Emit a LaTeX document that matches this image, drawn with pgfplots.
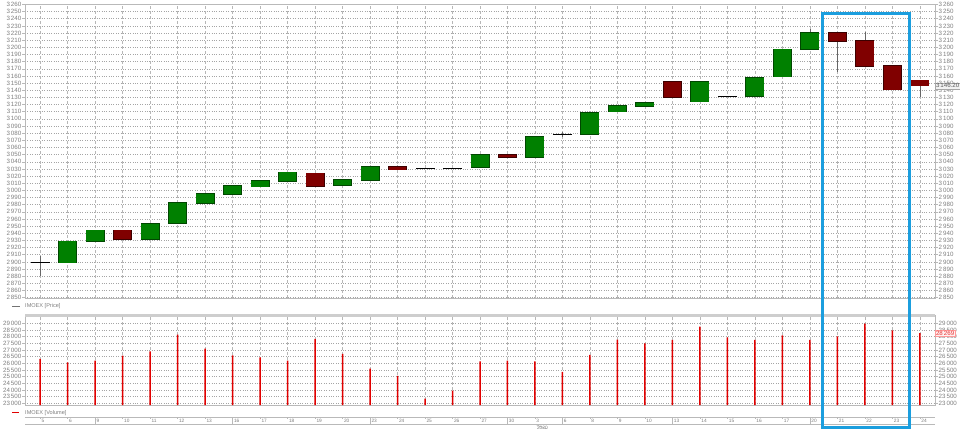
\documentclass[border=0pt]{standalone}
\usepackage{fontspec}
\setmainfont{Liberation Sans}
\usepackage{pgfplots}
\usepackage{pgfplotstable}
\pgfplotsset{compat=1.18}

\definecolor{upc}{RGB}{0,128,0}
\definecolor{upe}{RGB}{0,70,0}
\definecolor{dnc}{RGB}{128,0,0}
\definecolor{dne}{RGB}{60,0,0}
\definecolor{gridc}{RGB}{165,165,165}
\definecolor{framec}{RGB}{185,185,185}
\definecolor{labc}{RGB}{125,125,125}
\definecolor{volc}{RGB}{225,0,0}
\definecolor{hilite}{RGB}{27,158,222}

% rising days: open, close
\pgfplotstableread{
i o c
1 2899 2929
2 2929 2944
4 2932 2953
5 2954 2983
6 2982 2995
7 2995 3006
8 3005 3013
9 3013 3025
11 3007 3015
12 3014 3033
16 3032 3050
18 3046 3075
20 3079 3108
21 3110 3118
22 3118 3122
24 3124 3152
26 3132 3157
27 3159 3197
28 3197 3220
}\up

% falling days
\pgfplotstableread{
i o c
3 2944 2932
10 3024 3006
13 3033 3029
17 3050 3046
23 3152 3130
29 3220 3209
30 3209 3174
31 3174 3141
32 3154 3146.2
}\down

% open = close
\pgfplotstableread{
i p
0 2899
14 3030
15 3030
19 3078
25 3131
}\doji

% visible shadows
\pgfplotstableread{
i h l
0 2908 2880
19 3081 3074
28 3225 3197
29 3220 3166
30 3222 3174
32 3154 3131
}\wick

\pgfplotstableread{
i v
0 26325
1 26075
2 26200
3 26575
4 26900
5 28150
6 27100
7 26600
8 26450
9 26200
10 27825
11 26700
12 25600
13 25050
14 23350
15 23950
16 26150
17 26200
18 26150
19 25350
20 26625
21 27775
22 27500
23 27750
24 28750
25 27950
26 27750
27 28100
28 27750
29 28025
30 28975
31 28475
32 28269
}\vol

\pgfplotsset{
  panel/.style={
    scale only axis, width=910bp, anchor=north west,
    xmin=-0.55, xmax=32.55, scaled ticks=false,
    xtick={0,...,32}, xticklabels={}, major x tick style={draw=none},
    xmajorgrids, ymajorgrids,
    x grid style={gridc!80, densely dashed, line width=0.4bp},
    y grid style={gridc, dotted, line width=0.5bp},
    axis line style={framec, line width=0.8bp},
    tick align=outside, ytick pos=left,
    y tick style={framec, line width=0.5bp}, major tick length=2.5bp,
    yticklabel style={font=\fontsize{6.2}{7}\selectfont, text=labc, inner sep=1bp},
    /pgf/number format/assume math mode=true,
    /pgf/number format/fixed,
    /pgf/number format/1000 sep={\,},
  },
  rightdup/.style={
    panel, ytick pos=right, yticklabel pos=right,
    xmajorgrids=false, ymajorgrids=false, axis line style={draw=none},
  },
  body/.style={draw=none, mark=none, forget plot,
    error bars/.cd, y dir=both, y explicit, error mark=none},
}

\begin{document}
\begin{tikzpicture}
\path[use as bounding box] (0,0) rectangle (960bp,-429bp);

% ---- price panel
\begin{axis}[panel, at={(25bp,-4bp)}, height=294bp,
  ymin=2849.5, ymax=3260.6, ytick distance=10]
\addplot[body, error bar style={line width=0.7bp, draw=black!60}]
  table[x=i, y expr=(\thisrow{h}+\thisrow{l})/2, y error expr=(\thisrow{h}-\thisrow{l})/2] {\wick};
\addplot[body, error bar style={line width=19bp, draw=upe}]
  table[x=i, y expr=(\thisrow{o}+\thisrow{c})/2, y error expr=abs(\thisrow{c}-\thisrow{o})/2+0.9] {\up};
\addplot[body, error bar style={line width=17.6bp, draw=upc}]
  table[x=i, y expr=(\thisrow{o}+\thisrow{c})/2, y error expr=abs(\thisrow{c}-\thisrow{o})/2] {\up};
\addplot[body, error bar style={line width=19bp, draw=dne}]
  table[x=i, y expr=(\thisrow{o}+\thisrow{c})/2, y error expr=abs(\thisrow{c}-\thisrow{o})/2+0.9] {\down};
\addplot[body, error bar style={line width=17.6bp, draw=dnc}]
  table[x=i, y expr=(\thisrow{o}+\thisrow{c})/2, y error expr=abs(\thisrow{c}-\thisrow{o})/2] {\down};
\addplot[draw=none, mark=none, forget plot,
  error bars/.cd, x dir=both, x fixed=0.345, error mark=none,
  error bar style={line width=1bp, draw=black}]
  table[x=i, y=p] {\doji};
\end{axis}
\begin{axis}[rightdup, at={(25bp,-4bp)}, height=294bp,
  ymin=2849.5, ymax=3260.6, ytick distance=10, clip=false]
\node[anchor=west, draw=black!35, fill=black!5, inner sep=0.8bp,
  font=\fontsize{6.2}{7}\selectfont, text=black!65]
  at (axis cs:32.55,3146.2) {3\,146.20};
\end{axis}

% ---- volume panel
\begin{axis}[panel, at={(25bp,-315bp)}, height=90bp,
  ymin=22870, ymax=29620, ytick={23000,23500,...,29000}]
\addplot[ybar, bar width=1.5bp, fill=volc, draw=none, mark=none] table[x=i, y=v] {\vol};
\end{axis}
\begin{axis}[rightdup, at={(25bp,-315bp)}, height=90bp,
  ymin=22870, ymax=29620, ytick={23000,23500,...,29000}, clip=false]
\node[anchor=west, draw=red!40, fill=red!6, inner sep=0.8bp,
  font=\fontsize{6.2}{7}\selectfont, text=volc!80]
  at (axis cs:32.55,28269) {28\,269};
\end{axis}
\draw[framec!70, line width=2.2bp] (25bp,-315.5bp) -- (935bp,-315.5bp);

% ---- date strip
\begin{axis}[at={(25bp,-417.3bp)}, anchor=north west, scale only axis,
  width=910bp, height=7bp, xmin=-0.55, xmax=32.55, ymin=0, ymax=1,
  ytick=\empty, xtick={0,...,32},
  xticklabels={5,6,9,10,11,12,13,16,17,18,19,20,23,24,25,26,27,30,3,6,8,9,10,13,14,15,16,17,20,21,22,23,24},
  xtick pos=right, xticklabel pos=left, tick align=inside,
  major tick length=2bp, x tick style={framec, line width=0.5bp},
  xticklabel style={anchor=west, xshift=0.8bp, yshift=3.5bp,
    font=\fontsize{4.8}{5}\selectfont, text=labc, inner sep=0.5bp},
  axis x line*=box, axis y line=none,
  axis line style={framec, line width=0.8bp}, clip=false]
\pgfplotsinvokeforeach{2,7,12,17,19,23,28}{
  \draw[framec, line width=0.6bp] (axis cs:#1,0) -- (axis cs:#1,1);
}
\draw[framec, line width=0.6bp] (axis cs:18,0) -- ++(0,-6bp);
\node[anchor=north west, font=\fontsize{4.8}{5}\selectfont, text=labc, inner sep=0.5bp]
  at ([yshift=-1bp]axis cs:18.05,0) {2020};
\end{axis}

% ---- legends
\draw[black!55, line width=0.6bp] (12bp,-306bp) -- (20bp,-306bp);
\node[anchor=west, font=\fontsize{5.6}{6}\selectfont, text=labc, inner sep=0pt]
  at (25bp,-306bp) {IMOEX [Price]};
\draw[volc, line width=1.3bp] (12bp,-412.7bp) -- (19bp,-412.7bp);
\node[anchor=west, font=\fontsize{5.6}{6}\selectfont, text=labc, inner sep=0pt]
  at (25bp,-412.7bp) {IMOEX [Volume]};

% ---- highlighted window
\draw[hilite, line width=2.6bp] (822.5bp,-13.3bp) rectangle (909.5bp,-427.7bp);
\end{tikzpicture}
\end{document}
